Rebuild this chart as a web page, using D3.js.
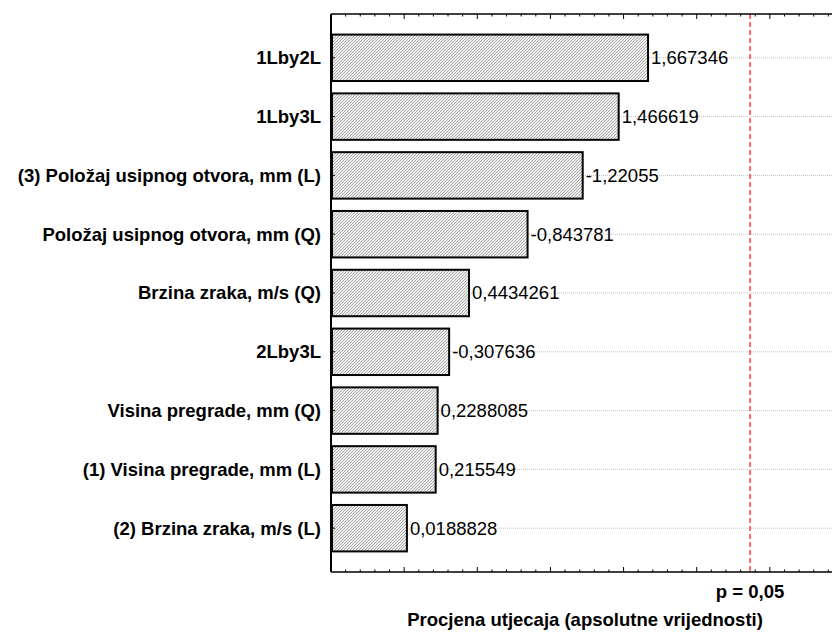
<!DOCTYPE html>
<html>
<head>
<meta charset="utf-8">
<script src="https://cdn.jsdelivr.net/npm/d3@7"></script>
<style>
  html, body { margin: 0; padding: 0; background: #fff; }
  svg { display: block; }
  text { font-family: "Liberation Sans", Arial, sans-serif; fill: #000; }
</style>
</head>
<body>
<div id="chart"></div>
<script>
// ---- data ----
const categories = [
  "1Lby2L",
  "1Lby3L",
  "(3) Položaj usipnog otvora, mm (L)",
  "Položaj usipnog otvora, mm (Q)",
  "Brzina zraka, m/s (Q)",
  "2Lby3L",
  "Visina pregrade, mm (Q)",
  "(1) Visina pregrade, mm (L)",
  "(2) Brzina zraka, m/s (L)"
];
const effects = [1.667346, 1.466619, -1.22055, -0.843781, 0.4434261, -0.307636, 0.2288085, 0.215549, 0.0188828];
const valueLabels = ["1,667346", "1,466619", "-1,22055", "-0,843781", "0,4434261", "-0,307636", "0,2288085", "0,215549", "0,0188828"];
const pCritical = 2.3646;
const pLabel = "p = 0,05";
const xTitle = "Procjena utjecaja (apsolutne vrijednosti)";

// ---- layout ----
const W = 832, H = 633;
const plot = { left: 331, top: 14, right: 843, bottom: 572 };

const svg = d3.select("#chart").append("svg").attr("width", W).attr("height", H);

const defs = svg.append("defs");
const pat = defs.append("pattern").attr("id", "hatch")
  .attr("patternUnits", "userSpaceOnUse").attr("width", 3).attr("height", 3);
pat.append("rect").attr("width", 3).attr("height", 3).attr("fill", "#eeeeee");
[[0, 2], [1, 1], [2, 0]].forEach(([px, py]) =>
  pat.append("rect").attr("x", px).attr("y", py).attr("width", 1).attr("height", 1).attr("fill", "#a9a9a9"));

const x = d3.scaleLinear().domain([-0.5, 3.0]).range([plot.left, plot.right]);
const y = d3.scaleBand().domain(categories).range([plot.top, plot.bottom])
  .paddingInner(0.21).paddingOuter(0.35);

const data = categories.map((c, i) => ({ cat: c, v: effects[i], lab: valueLabels[i] }));

// grid lines at category centres
svg.append("g").selectAll("line").data(data).join("line")
  .attr("x1", plot.left).attr("x2", plot.right)
  .attr("y1", d => y(d.cat) + y.bandwidth() / 2)
  .attr("y2", d => y(d.cat) + y.bandwidth() / 2)
  .attr("stroke", "#c4c4c4").attr("stroke-width", 1).attr("stroke-dasharray", "1,1");

// value labels
svg.append("g").selectAll("text").data(data).join("text")
  .attr("x", d => x(Math.abs(d.v)) + 3)
  .attr("y", d => y(d.cat) + y.bandwidth() / 2)
  .attr("dy", "0.35em")
  .attr("font-size", "18.5px")
  .text(d => d.lab);

// bars
svg.append("g").selectAll("rect").data(data).join("rect")
  .attr("x", x(-0.5) + 1)
  .attr("y", d => y(d.cat))
  .attr("width", d => x(Math.abs(d.v)) - x(-0.5) - 1)
  .attr("height", y.bandwidth())
  .attr("fill", "url(#hatch)")
  .attr("stroke", "#000").attr("stroke-width", 2);

// critical value line
svg.append("line")
  .attr("x1", x(pCritical)).attr("x2", x(pCritical))
  .attr("y1", plot.top).attr("y2", plot.bottom)
  .attr("stroke", "#ff4d4d").attr("stroke-width", 1.6).attr("stroke-dasharray", "5,3");

// axes frame: left, top, bottom
const frame = svg.append("g").attr("stroke", "#000").attr("fill", "none");
frame.append("line").attr("x1", plot.left).attr("x2", plot.left)
  .attr("y1", plot.top).attr("y2", plot.bottom).attr("stroke-width", 2);
frame.append("line").attr("x1", plot.left).attr("x2", plot.right)
  .attr("y1", plot.top).attr("y2", plot.top).attr("stroke-width", 1.6);
frame.append("line").attr("x1", plot.left).attr("x2", plot.right)
  .attr("y1", plot.bottom).attr("y2", plot.bottom).attr("stroke-width", 1.6);

// ticks (inside) on bottom and top
const minorTicks = d3.range(-4, 30).map(i => i / 10);
const isMajor = v => Math.abs(v * 2 - Math.round(v * 2)) < 1e-6;
const tg = svg.append("g").attr("stroke", "#000").attr("stroke-width", 1);
tg.selectAll("line.b").data(minorTicks).join("line").attr("class", "b")
  .attr("x1", d => x(d)).attr("x2", d => x(d))
  .attr("y1", plot.bottom).attr("y2", d => plot.bottom - (isMajor(d) ? 5 : 2.5));
tg.selectAll("line.t").data(minorTicks).join("line").attr("class", "t")
  .attr("x1", d => x(d)).attr("x2", d => x(d))
  .attr("y1", plot.top).attr("y2", d => plot.top + (isMajor(d) ? 5 : 2.5));
// left ticks at category centres
tg.selectAll("line.l").data(categories).join("line").attr("class", "l")
  .attr("x1", plot.left).attr("x2", plot.left + 4)
  .attr("y1", d => y(d) + y.bandwidth() / 2).attr("y2", d => y(d) + y.bandwidth() / 2);

// category labels
svg.append("g").selectAll("text").data(categories).join("text")
  .attr("x", 321)
  .attr("y", d => y(d) + y.bandwidth() / 2)
  .attr("dy", "0.35em")
  .attr("text-anchor", "end")
  .attr("font-size", "18.5px")
  .attr("font-weight", "bold")
  .text(d => d);

// p label
svg.append("text")
  .attr("x", x(pCritical)).attr("y", 598)
  .attr("text-anchor", "middle")
  .attr("font-size", "18.5px").attr("font-weight", "bold")
  .text(pLabel);

// axis title
svg.append("text")
  .attr("x", 585).attr("y", 626)
  .attr("text-anchor", "middle")
  .attr("font-size", "18.5px").attr("font-weight", "bold")
  .text(xTitle);
</script>
</body>
</html>
